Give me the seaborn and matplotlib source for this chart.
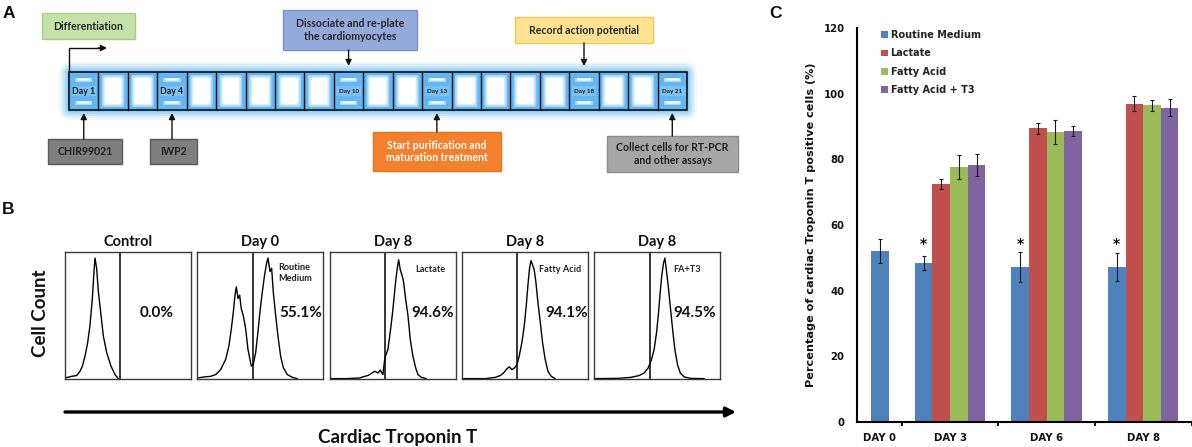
import numpy as np
import pandas as pd
import matplotlib
matplotlib.use("Agg")
import matplotlib.pyplot as plt
from matplotlib.patches import Rectangle, FancyBboxPatch, Patch
import seaborn as sns

# ---------------- data ----------------
days = ["DAY 0", "DAY 3", "DAY 6", "DAY 8"]
series = ["Routine Medium", "Lactate", "Fatty Acid", "Fatty Acid + T3"]
routine = [52.0, 48.4, 47.1, 47.2]
routine_err = [3.7, 2.1, 4.6, 4.2]
lactate = [np.nan, 72.5, 89.4, 96.9]
lactate_err = [np.nan, 1.5, 1.8, 2.3]
fatty = [np.nan, 77.6, 88.3, 96.4]
fatty_err = [np.nan, 3.6, 3.6, 1.6]
fat3 = [np.nan, 78.2, 88.6, 95.7]
fat3_err = [np.nan, 3.3, 1.6, 2.6]
significant = [False, True, True, True]
yticks = [0, 20, 40, 60, 80, 100, 120]

# flow cytometry histograms (x, y normalised to the panel box)
hist_titles = ["Control", "Day 0", "Day 8", "Day 8", "Day 8"]
hist_tags = ["", "Routine\nMedium", "Lactate", "Fatty Acid", "FA+T3"]
hist_pct = ["0.0%", "55.1%", "94.6%", "94.1%", "94.5%"]
h_ctrl_x = [0, 0.053, 0.093, 0.119, 0.138, 0.159, 0.180, 0.198, 0.217, 0.230, 0.238, 0.251, 0.265, 0.286, 0.304, 0.331, 0.365, 0.397, 0.423]
h_ctrl_y = [0.008, 0.021, 0.027, 0.061, 0.101, 0.181, 0.287, 0.420, 0.633, 0.846, 0.952, 0.872, 0.686, 0.500, 0.340, 0.207, 0.101, 0.035, 0.003]
h_d0_x = [0, 0.053, 0.106, 0.146, 0.185, 0.225, 0.251, 0.270, 0.286, 0.299, 0.310, 0.323, 0.336, 0.349, 0.365, 0.384, 0.402, 0.418, 0.429, 0.444, 0.463, 0.481, 0.497, 0.516, 0.534, 0.550, 0.561, 0.577, 0.590, 0.603, 0.622, 0.640, 0.661, 0.683, 0.714, 0.754, 0.794]
h_d0_y = [0.008, 0.016, 0.021, 0.035, 0.074, 0.154, 0.261, 0.394, 0.527, 0.660, 0.726, 0.633, 0.660, 0.553, 0.500, 0.394, 0.234, 0.154, 0.101, 0.114, 0.207, 0.367, 0.527, 0.686, 0.819, 0.912, 0.952, 0.846, 0.872, 0.686, 0.500, 0.340, 0.181, 0.088, 0.035, 0.013, 0.003]
h_lac_x = [0, 0.132, 0.238, 0.278, 0.304, 0.331, 0.357, 0.384, 0.402, 0.423, 0.439, 0.463, 0.481, 0.497, 0.511, 0.524, 0.537, 0.548, 0.561, 0.574, 0.587, 0.603, 0.622, 0.640, 0.661, 0.683, 0.701, 0.728, 0.767]
h_lac_y = [0.003, 0.003, 0.008, 0.021, 0.027, 0.043, 0.061, 0.048, 0.069, 0.035, 0.168, 0.234, 0.367, 0.500, 0.633, 0.766, 0.872, 0.939, 0.859, 0.819, 0.766, 0.633, 0.500, 0.314, 0.181, 0.088, 0.035, 0.013, 0.003]
h_fa_x = [0, 0.185, 0.265, 0.304, 0.331, 0.357, 0.376, 0.397, 0.418, 0.437, 0.455, 0.476, 0.495, 0.511, 0.524, 0.537, 0.548, 0.561, 0.574, 0.587, 0.603, 0.622, 0.640, 0.661, 0.683, 0.709, 0.741]
h_fa_y = [0.003, 0.003, 0.013, 0.027, 0.048, 0.080, 0.096, 0.074, 0.088, 0.114, 0.181, 0.287, 0.420, 0.580, 0.739, 0.872, 0.931, 0.899, 0.859, 0.766, 0.606, 0.447, 0.287, 0.154, 0.061, 0.021, 0.003]
h_fat3_x = [0, 0.185, 0.291, 0.357, 0.397, 0.429, 0.455, 0.476, 0.495, 0.511, 0.524, 0.537, 0.550, 0.561, 0.571, 0.587, 0.603, 0.622, 0.640, 0.661, 0.683, 0.714, 0.767, 0.873]
h_fat3_y = [0.003, 0.005, 0.013, 0.027, 0.048, 0.088, 0.154, 0.234, 0.367, 0.527, 0.686, 0.819, 0.912, 0.952, 0.872, 0.739, 0.580, 0.394, 0.234, 0.114, 0.048, 0.016, 0.005, 0.003]
gate = 0.44

# timeline
n_days = 21
labeled_days = [1, 4, 10, 13, 18, 21]

# ---------------- style ----------------
sns.set_theme(style="white")
plt.rcParams["font.family"] = ["Lato", "DejaVu Sans"]

W, H = 1192, 447
fig = plt.figure(figsize=(W / 100, H / 100), dpi=100)
fig.patch.set_facecolor("white")


def px_axes(x, y, w, h):
    return fig.add_axes([x / W, 1 - (y + h) / H, w / W, h / H])


ov = px_axes(0, 0, W, H)
ov.set_xlim(0, W)
ov.set_ylim(H, 0)
ov.axis("off")

# panel letters
for letter, (lx, ly) in {"A": (3, 13), "B": (2, 209), "C": (769, 13)}.items():
    ov.text(lx, ly, letter, fontsize=12.5, fontweight="bold", family="Liberation Sans",
            va="center", ha="left", color="#111111")

# ---------------- panel A ----------------
x0, y0, x1, y1 = 69, 72, 687, 110
cw = (x1 - x0) / n_days
for k, a in [(10, 0.10), (8, 0.14), (6, 0.2), (4, 0.3), (2, 0.45)]:
    ov.add_patch(FancyBboxPatch((x0 - k, y0 - k), (x1 - x0) + 2 * k, (y1 - y0) + 2 * k,
                                boxstyle=f"round,pad=0,rounding_size={k + 2}",
                                fc="#6ABCF3", ec="none", alpha=a, zorder=1))
for d in range(1, n_days + 1):
    cx = x0 + (d - 1) * cw
    ov.add_patch(Rectangle((cx, y0), cw, y1 - y0, fc="#63B6F2", ec="none", zorder=2))
    if d in labeled_days:
        for yy in (y0 + 5.5, y1 - 9.5):
            for ins, col in [(6, "#A8D7F8"), (7.5, "#D6EDFC"), (9, "white")]:
                dh = (ins - 6) * 0.35
                ov.add_patch(Rectangle((cx + ins, yy + dh), cw - 2 * ins, 4 - 2 * dh,
                                       fc=col, ec="none", zorder=3))
        ov.add_patch(Rectangle((cx + 2.5, (y0 + y1) / 2 - 5), cw - 5, 10, fc="#8CCAF5",
                               ec="none", zorder=3, alpha=0.6))
        fs = 6.3 if d < 10 else 4.6
        ov.text(cx + cw / 2, (y0 + y1) / 2 + 0.5, f"Day {d}", fontsize=fs, fontweight="bold",
                ha="center", va="center", color="#1a1a1a", zorder=5)
    else:
        for ins, col in [(3.5, "#A8D7F8"), (5, "#D6EDFC"), (6.5, "white")]:
            insy = ins - 0.5
            ov.add_patch(FancyBboxPatch((cx + ins, y0 + insy), cw - 2 * ins, (y1 - y0) - 2 * insy,
                                        boxstyle="round,pad=0,rounding_size=2",
                                        fc=col, ec="none", zorder=3))
    if d > 1:
        ov.plot([cx, cx], [y0, y1], color="#111111", lw=1, zorder=4)
ov.add_patch(Rectangle((x0, y0), x1 - x0, y1 - y0, fc="none", ec="#111111", lw=1.2, zorder=4))


def day_x(d):
    return x0 + (d - 0.5) * cw


def box(x, y, w, h, text, fc, ec, tc="#262626", fs=7.6):
    ov.add_patch(Rectangle((x, y), w, h, fc=fc, ec=ec, lw=1, zorder=3))
    ov.text(x + w / 2, y + h / 2, text, ha="center", va="center", fontsize=fs,
            fontweight="bold", color=tc, zorder=4, linespacing=1.15)


box(42, 13, 93, 26, "Differentiation", "#C5E0A8", "#A9CF84")
box(283, 10, 134, 40, "Dissociate and re-plate\nthe cardiomyocytes", "#94AADC", "#7891CC")
box(515, 17, 138, 26, "Record action potential", "#FFE393", "#F7C64E")
box(48, 139, 74, 25, "CHIR99021", "#7F7F7F", "#5A5A5A", tc="#1f1f1f")
box(150, 139, 47, 25, "IWP2", "#7F7F7F", "#5A5A5A", tc="#1f1f1f")
box(373, 132, 128, 39, "Start purification and\nmaturation treatment", "#F47F2C", "#E8731F", tc="white")
box(607, 136, 131, 36, "Collect cells for RT-PCR\nand other assays", "#A6A6A6", "#8C8C8C", tc="#1f1f1f")

arrow_kw = dict(arrowstyle="-|>", color="#111111", lw=1, mutation_scale=9, shrinkA=0, shrinkB=0)
ov.plot([x0, x0, 100], [y0, 48, 48], color="#111111", lw=1, zorder=5)
ov.annotate("", xy=(107, 48), xytext=(98, 48), arrowprops=arrow_kw, zorder=5)
for d, ys, ye in [(10, 50, 66), (18, 43, 66)]:
    ov.annotate("", xy=(day_x(d), ye), xytext=(day_x(d), ys), arrowprops=arrow_kw, zorder=5)
for d, ys in [(1, 139), (4, 139), (13, 132), (21, 136)]:
    ov.annotate("", xy=(day_x(d), 113), xytext=(day_x(d), ys), arrowprops=arrow_kw, zorder=5)

# ---------------- panel B ----------------
hists = [(h_ctrl_x, h_ctrl_y), (h_d0_x, h_d0_y), (h_lac_x, h_lac_y), (h_fa_x, h_fa_y), (h_fat3_x, h_fat3_y)]
pct_x = [0.73, 0.825, 0.817, 0.833, 0.80]
tag_x = [0, 0.645, 0.80, 0.778, 0.738]
for i, (hx, hy) in enumerate(hists):
    axh = px_axes(65 + i * 132.3, 252, 126, 127)
    sns.lineplot(x=hx, y=hy, ax=axh, color="black", lw=1.0, sort=False, estimator=None)
    axh.axvline(gate, color="black", lw=1.1)
    axh.set_xlim(0, 1)
    axh.set_ylim(0, 1)
    axh.set_xticks([])
    axh.set_yticks([])
    for s in axh.spines.values():
        s.set_color("#3a3a3a")
        s.set_linewidth(1)
    axh.set_title(hist_titles[i], fontsize=10.5, fontweight="bold", pad=4, color="#111111")
    axh.text(pct_x[i], 0.52, hist_pct[i], transform=axh.transAxes, ha="center", va="center",
             fontsize=11, fontweight="bold", color="#111111")
    if hist_tags[i]:
        if i == 1:
            axh.text(tag_x[i], 0.835, hist_tags[i], transform=axh.transAxes, ha="left", va="center",
                     fontsize=6.6, fontweight="bold", color="#222222", linespacing=1.2)
        else:
            axh.text(tag_x[i], 0.865, hist_tags[i], transform=axh.transAxes, ha="center", va="center",
                     fontsize=6.6, fontweight="bold", color="#222222")

ov.text(40, 313, "Cell Count", rotation=90, ha="center", va="center", fontsize=13.5,
        fontweight="bold", color="#111111")
ov.annotate("", xy=(736, 412), xytext=(65, 412),
            arrowprops=dict(arrowstyle="-|>", color="black", lw=2.4, mutation_scale=14,
                            shrinkA=0, shrinkB=0))
ov.text(398, 437, "Cardiac Troponin T", ha="center", va="center", fontsize=13.5,
        fontweight="bold", color="#111111")

# ---------------- panel C ----------------
colors = ["#4F81BD", "#C0504D", "#9BBB59", "#8064A2"]
palette = dict(zip(series, colors))
vals = {"Routine Medium": (routine, routine_err), "Lactate": (lactate, lactate_err),
        "Fatty Acid": (fatty, fatty_err), "Fatty Acid + T3": (fat3, fat3_err)}
rows = []
for s in series:
    v, e = vals[s]
    for d, vv, ee in zip(days, v, e):
        if not np.isnan(vv):
            rows.append({"day": d, "series": s, "value": vv, "err": ee})
df = pd.DataFrame(rows)
df_main = df[df["day"] != days[0]]
df_first = df[df["day"] == days[0]]

axC = px_axes(857, 28, 335, 394)
bw = 0.73
sns.barplot(data=df_main, x="day", y="value", hue="series", order=days, hue_order=series,
            palette=palette, width=bw, dodge=True, errorbar=None, legend=False, saturation=1,
            ax=axC, linewidth=0)
sns.barplot(data=df_first, x="day", y="value", hue="series", order=days, hue_order=series[::-1],
            palette=palette, width=bw, dodge=True, errorbar=None, legend=False, saturation=1,
            ax=axC, linewidth=0)

day0_center = 0.0
for p in axC.patches:
    h = p.get_height()
    if np.isnan(h):
        continue
    match = df[np.isclose(df["value"], h)]
    if match.empty:
        continue
    r = match.iloc[0]
    xc = p.get_x() + p.get_width() / 2
    axC.errorbar(xc, h, yerr=r["err"], color="#1a1a1a", lw=0.8, capsize=1.6, capthick=0.8, zorder=5)
    if r["series"] == series[0]:
        di = days.index(r["day"])
        if di == 0:
            day0_center = xc
        if significant[di]:
            axC.text(xc, 54.2, "*", ha="center", va="center", fontsize=10, fontweight="bold",
                     family="DejaVu Sans", color="#111111")

axC.set_xlim(0.036, 3.505)
axC.set_ylim(0, 120)
axC.set_yticks(yticks)
axC.set_yticklabels([str(t) for t in yticks], fontsize=7.3, fontweight="bold", family="DejaVu Sans")
axC.set_xticks([day0_center, 1, 2, 3])
axC.set_xticklabels(days, fontsize=7.3, fontweight="bold", family="DejaVu Sans")
axC.set_xticks([0.5, 1.5, 2.5, 3.5], minor=True)
axC.tick_params(axis="x", which="major", length=0, pad=8, colors="#111111")
axC.tick_params(axis="x", which="minor", length=3, width=1.3, direction="out", color="black", bottom=True)
axC.tick_params(axis="y", which="major", length=0, pad=9, colors="#111111")
axC.set_xlabel("")
axC.set_ylabel("Percentage of cardiac Troponin T positive cells (%)", fontsize=8.1,
               fontweight="bold", family="DejaVu Sans", labelpad=5, color="#111111")
for s in ["top", "right"]:
    axC.spines[s].set_visible(False)
for s in ["left", "bottom"]:
    axC.spines[s].set_color("black")
    axC.spines[s].set_linewidth(1.5)
axC.grid(False)
handles = [Patch(facecolor=palette[s], edgecolor="none") for s in series]
leg = axC.legend(handles, series, loc="upper left", bbox_to_anchor=(0.045, 1.017), frameon=False,
                 handlelength=0.7, handleheight=0.7, handletextpad=0.3, labelspacing=0.85,
                 prop={"family": "DejaVu Sans", "weight": "bold", "size": 7.0})
for t in leg.get_texts():
    t.set_color("#222222")

fig.savefig("out.png", dpi=100, facecolor="white")
